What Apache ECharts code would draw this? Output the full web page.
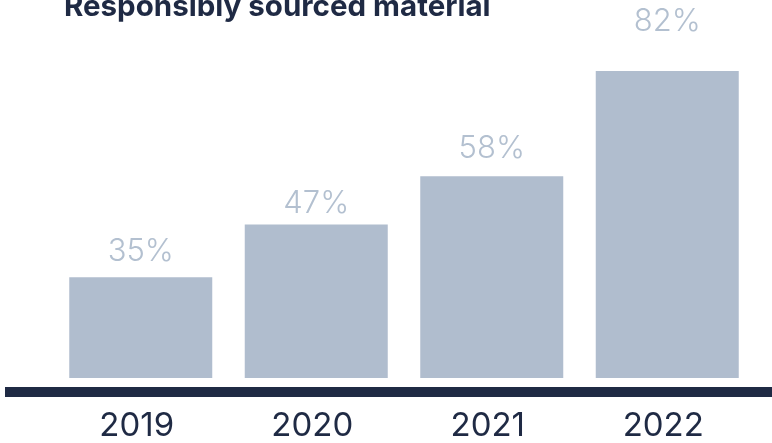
<!DOCTYPE html>
<html>
<head>
<meta charset="utf-8">
<style>
  html, body { margin: 0; padding: 0; background: #ffffff; }
  #chart { width: 772px; height: 443px; }
</style>
<script src="https://cdn.jsdelivr.net/npm/echarts@6/dist/echarts.min.js"></script>
</head>
<body>
<div id="chart"></div>
<script>
// Share of responsibly sourced material by year (%)
const years = ['2019', '2020', '2021', '2022'];
const sharePct = [35, 47, 58, 82];
const chartTitle = 'Responsibly sourced material';

const navy = '#1f2a44';
const barColor = '#b0bdce';
const labelColor = '#b3c0d0';

// gap between each bar top and its value label
const labelGap = [10, 5, 12, 34];

const chart = echarts.init(document.getElementById('chart'), null, { renderer: 'canvas' });

chart.setOption({
  animation: false,
  backgroundColor: '#ffffff',
  title: {
    text: chartTitle,
    left: 59,
    top: -13,
    textStyle: {
      fontFamily: 'Inter',
      fontWeight: 'bold',
      fontSize: 29.5,
      color: navy
    }
  },
  grid: { left: 53, right: 17, top: 36, bottom: 65 },
  xAxis: {
    type: 'category',
    data: years,
    axisTick: { show: false },
    axisLine: { show: false },
    axisLabel: {
      margin: 32,
      padding: [0, 8, 0, 0],
      fontFamily: 'Inter',
      fontSize: 33,
      color: navy
    }
  },
  yAxis: {
    type: 'value',
    min: 12,
    max: 90,
    show: false
  },
  series: [{
    type: 'bar',
    data: sharePct.map((v, i) => ({
      value: v,
      label: { distance: labelGap[i] }
    })),
    barWidth: 143,
    itemStyle: { color: barColor },
    label: {
      show: true,
      position: 'top',
      formatter: '{c}%',
      fontFamily: 'Inter',
      fontWeight: 300,
      fontSize: 31,
      color: labelColor
    }
  }],
  graphic: [{
    type: 'rect',
    shape: { x: 5, y: 387, width: 767, height: 10 },
    style: { fill: navy },
    silent: true
  }]
});
</script>
</body>
</html>
